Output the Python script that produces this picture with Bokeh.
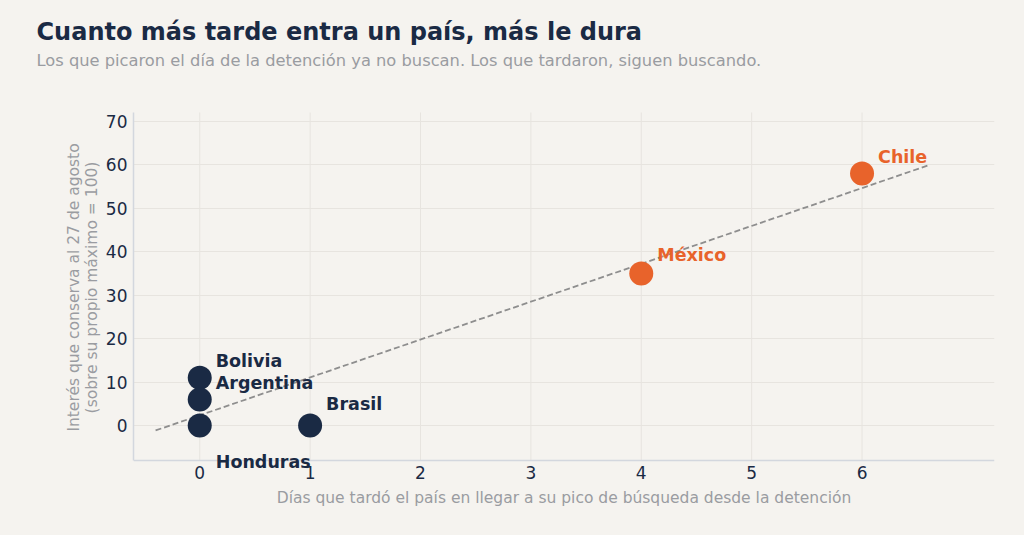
import numpy as np
from bokeh.plotting import figure
from bokeh.models import ColumnDataSource, Range1d, FixedTicker, Label, Title
from bokeh.embed import file_html
from bokeh.resources import INLINE

# ---- data ----
countries = ["Bolivia", "Argentina", "Honduras", "Brasil", "México", "Chile"]
days_to_peak = [0, 0, 0, 1, 4, 6]
interest_aug27 = [11, 6, 0, 0, 35, 58]
groups = ["early", "early", "early", "early", "late", "late"]
x_ticks = [0, 1, 2, 3, 4, 5, 6]
y_ticks = [0, 10, 20, 30, 40, 50, 60, 70]
trend_x = [-0.4, 6.6]

title_text = "Cuanto más tarde entra un país, más le dura"
subtitle_text = "Los que picaron el día de la detención ya no buscan. Los que tardaron, siguen buscando."
x_label = "Días que tardó el país en llegar a su pico de búsqueda desde la detención"
y_label = "Interés que conserva al 27 de agosto\n(sobre su propio máximo = 100)"

# ---- axis extents ----
X_MIN, X_MAX = -0.6, 7.2
Y_AXIS_MIN, Y_MAX = -8, 72.07          # visible axis extent (spines / grid)
Y_VIEW_MIN, Y_VIEW_MAX = -19.34, 82.89  # drawing area: room for labels outside the spines

# ---- styles ----
BG = "#f5f3ef"
NAVY = "#1a2a44"
ORANGE = "#e8632b"
GRAY_TXT = "#9a9ca1"
GRID = "#e7e4df"
SPINE = "#d3d7de"
FONT = "DejaVu Sans"
color_map = {"early": NAVY, "late": ORANGE}
label_dx = [16, 16, 16, 16, 16, 16]
label_dy = [16.5, 16.5, -36.5, 22, 18, 17]

colors = [color_map[g] for g in groups]
src = ColumnDataSource(dict(x=days_to_peak, y=interest_aug27, color=colors))

p = figure(width=1024, height=535, output_backend="svg", toolbar_location=None,
           x_range=Range1d(X_MIN, X_MAX), y_range=Range1d(Y_VIEW_MIN, Y_VIEW_MAX),
           min_border_left=133, min_border_right=30, min_border_top=65, min_border_bottom=26)
p.background_fill_color = BG
p.border_fill_color = BG
p.outline_line_color = None

# grid
p.xgrid.visible = False
p.ygrid.ticker = FixedTicker(ticks=y_ticks)
p.ygrid.grid_line_color = GRID
p.ygrid.grid_line_width = 1
p.segment(x0=x_ticks, x1=x_ticks, y0=[Y_AXIS_MIN] * len(x_ticks), y1=[Y_MAX] * len(x_ticks),
          line_color=GRID, line_width=1)

# axes
p.xaxis.ticker = FixedTicker(ticks=x_ticks)
p.yaxis.ticker = FixedTicker(ticks=y_ticks)
p.xaxis.fixed_location = Y_AXIS_MIN
p.yaxis.bounds = (Y_AXIS_MIN, Y_MAX)
for ax in (p.xaxis, p.yaxis):
    ax.axis_line_color = SPINE
    ax.axis_line_width = 1.5
    ax.major_tick_line_color = None
    ax.minor_tick_line_color = None
    ax.major_tick_out = 0
    ax.major_tick_in = 0
    ax.major_label_text_font = FONT
    ax.major_label_text_font_size = "17px"
    ax.major_label_text_color = NAVY
    ax.axis_label_text_font = FONT
    ax.axis_label_text_font_size = "15.5px"
    ax.axis_label_text_font_style = "normal"
    ax.axis_label_text_color = GRAY_TXT
    ax.axis_label_text_line_height = 1.0
p.xaxis.axis_label = x_label
p.yaxis.axis_label = y_label
p.xaxis.major_label_standoff = 6
p.yaxis.major_label_standoff = 6
p.xaxis.axis_label_standoff = 6
p.yaxis.axis_label_standoff = 2

# trend line (least squares fit of the data)
slope, intercept = np.polyfit(days_to_peak, interest_aug27, 1)
trend_y = [slope * xv + intercept for xv in trend_x]
p.line(trend_x, trend_y, line_color="#8e8e8e", line_width=1.8, line_dash="6 3")

# points
p.scatter("x", "y", source=src, size=24, fill_color="color", line_color=None)

# point labels
for name, xv, yv, c, dx, dy in zip(countries, days_to_peak, interest_aug27, colors, label_dx, label_dy):
    p.add_layout(Label(x=xv, y=yv, text=name, x_offset=dx, y_offset=dy,
                       text_color=c, text_font=FONT, text_font_size="17.5px",
                       text_font_style="bold", text_baseline="alphabetic"))

# title / subtitle
p.add_layout(Title(text=subtitle_text, align="left", offset=-97, standoff=-9,
                   text_font=FONT, text_font_size="16.3px", text_font_style="normal",
                   text_color=GRAY_TXT), "above")
p.add_layout(Title(text=title_text, align="left", offset=-97, standoff=16,
                   text_font=FONT, text_font_size="24px", text_font_style="bold",
                   text_color=NAVY), "above")

html = file_html(p, INLINE)
html = html.replace("<body>", '<body style="background-color:#f5f3ef;">')
open("out.html", "w").write(html)
